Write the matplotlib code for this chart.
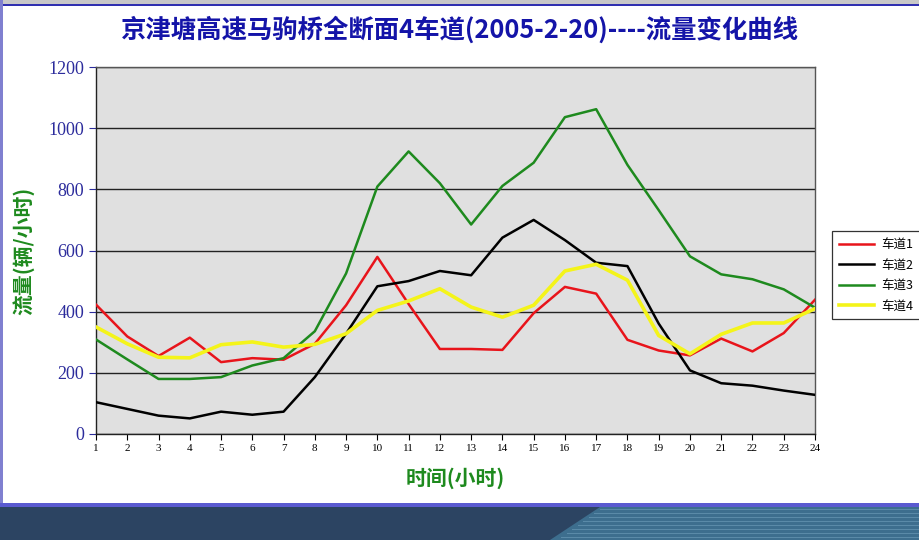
import matplotlib
matplotlib.use('Agg')
import matplotlib.pyplot as plt
from matplotlib.patches import Rectangle, Polygon

plt.rcParams['font.family'] = ['Noto Sans CJK SC', 'DejaVu Sans']

# hours 1..24
hours = list(range(1, 25))

# flow per lane (veh/h)
lane1 = [423, 319, 255, 315, 235, 248, 243, 295, 421, 579, 425, 278,
         278, 275, 395, 481, 459, 308, 273, 257, 312, 270, 330, 439]
lane2 = [104, 82, 60, 51, 73, 63, 73, 186, 328, 483, 500, 533,
         519, 642, 700, 634, 560, 549, 361, 208, 166, 158, 142, 128]
lane3 = [309, 244, 180, 180, 186, 224, 248, 336, 525, 809, 924, 820,
         685, 811, 887, 1036, 1062, 880, 732, 581, 522, 506, 473, 413]
lane4 = [350, 295, 251, 249, 292, 301, 284, 293, 328, 404, 435, 475,
         415, 382, 421, 533, 555, 503, 322, 262, 326, 363, 363, 410]

lane_names = ['车道1', '车道2', '车道3', '车道4']
lane_colors = ['#E8141B', '#000000', '#1E8A1E', '#F4F41A']
lane_widths = [1.8, 1.8, 1.8, 2.6]
y_ticks = [0, 200, 400, 600, 800, 1000, 1200]

title = '京津塘高速马驹桥全断面4车道(2005-2-20)----流量变化曲线'

fig = plt.figure(figsize=(9.2, 5.4), dpi=100)
fig.patch.set_facecolor('white')

# slide decoration: top/left blue border and bottom band
fig.patches.append(Rectangle((0, 1 - 4/540), 1, 4/540, transform=fig.transFigure,
                             facecolor='#c8c8c8', edgecolor='none', zorder=0))
fig.patches.append(Rectangle((0, 1 - 6/540), 1, 2/540, transform=fig.transFigure,
                             facecolor='#3030b0', edgecolor='none', zorder=0))
fig.patches.append(Rectangle((0, 0), 3/920, 1, transform=fig.transFigure,
                             facecolor='#8080d0', edgecolor='none', zorder=0))
fig.patches.append(Rectangle((0, 0), 1, 37/540, transform=fig.transFigure,
                             facecolor='#2c4462', edgecolor='none', zorder=0))
fig.patches.append(Polygon([(550/920, 0), (600/920, 33/540), (1, 33/540), (1, 0)],
                           closed=True, transform=fig.transFigure,
                           facecolor='#3d6e8e', edgecolor='none', zorder=0))
for k in range(8):
    yy = (2 + 4 * k) / 540
    fig.patches.append(Rectangle((600/920 - 0.006 * (7 - k), yy), 1, 1/540,
                                 transform=fig.transFigure,
                                 facecolor='#5a8aa8', edgecolor='none', zorder=0))
fig.patches.append(Rectangle((0, 33/540), 1, 4/540, transform=fig.transFigure,
                             facecolor='#5a5ad0', edgecolor='none', zorder=0))

ax = fig.add_axes([96/920, 1 - 434/540, (815 - 96)/920, (434 - 67)/540])
ax.set_facecolor('#E0E0E0')

for vals, name, col, lw in zip([lane1, lane2, lane3, lane4], lane_names,
                               lane_colors, lane_widths):
    ax.plot(hours, vals, color=col, lw=lw, label=name, zorder=3)

ax.set_xlim(1, 24)
ax.set_ylim(0, 1200)
ax.set_yticks(y_ticks)
ax.set_xticks(hours)
ax.yaxis.grid(True, color='#222222', lw=1.0)
ax.set_axisbelow(True)

ax.tick_params(axis='y', colors='#2c2c9c', labelsize=13, length=5, direction='out')
ax.tick_params(axis='x', colors='#000000', labelsize=8, length=4, direction='out')
for lab in ax.get_yticklabels():
    lab.set_family('Liberation Serif')
    lab.set_color('#2c2c9c')
for lab in ax.get_xticklabels():
    lab.set_family('Liberation Serif')
for sp in ax.spines.values():
    sp.set_color('#555555')
    sp.set_linewidth(1.0)
ax.spines['left'].set_color('#222222')
ax.spines['bottom'].set_color('#222222')

fig.text(0.5, 1 - 30/540, title, ha='center', va='center', fontsize=18.3,
         fontweight='bold', color='#1414A8')
fig.text(23/920, 1 - 251/540, '流量(辆/小时)', ha='center', va='center',
         rotation=90, fontsize=15, fontweight='bold', color='#1E8A1E')
fig.text(455/920, 1 - 478/540, '时间(小时)', ha='center', va='center',
         fontsize=15, fontweight='bold', color='#1E8A1E')

leg = fig.legend(loc='upper left', bbox_to_anchor=(832/920, 1 - 231/540),
                 fontsize=9, frameon=True, fancybox=False, handlelength=2.8,
                 borderpad=0.55, labelspacing=0.6, handletextpad=0.6,
                 borderaxespad=0)
leg.get_frame().set_edgecolor('#000000')
leg.get_frame().set_linewidth(0.9)

fig.savefig('out.png', dpi=100, facecolor=fig.get_facecolor())
